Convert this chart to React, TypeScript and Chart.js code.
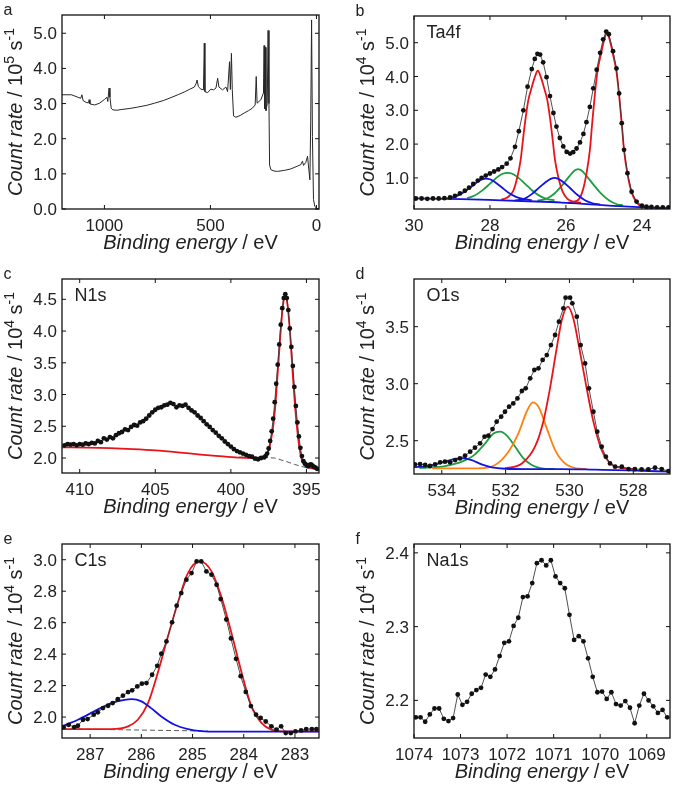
import React, { useEffect, useRef } from "react";
import { Chart, registerables } from "chart.js";

Chart.register(...registerables);

type Pt = [number, number];

// ---------------- data (binding energy eV, count rate) ----------------
// a: survey (10^5 s^-1)
const SURVEY: Pt[] = [
  [1200, 3.25], [1156, 3.25], [1125, 3.18], [1112, 3.15], [1106, 3.25], [1101, 3.09], [1086, 3.03], [1075, 3.02],
  [1072, 3.11], [1068, 2.99], [1046, 2.96], [1023, 3.01], [999, 3.12], [988, 3.18], [984, 3.06], [978, 3.44],
  [974, 3.18], [968, 2.87], [960, 2.82], [940, 2.81], [921, 2.83], [880, 2.86], [843, 2.9], [800, 2.95],
  [764, 3.01], [720, 3.09], [686, 3.17], [650, 3.26], [623, 3.33], [600, 3.4], [576, 3.47], [568, 3.56],
  [563, 3.67], [557, 3.48], [545, 3.41], [533, 3.39], [529, 4.72], [526, 3.34], [513, 3.31], [498, 3.41],
  [485, 3.39], [474, 3.44], [466, 3.72], [460, 3.47], [443, 3.39], [427, 3.47], [419, 3.34], [410, 4.19],
  [406, 3.4], [401, 4.43], [397, 3.4], [391, 2.65], [380, 2.61], [360, 2.66], [341, 2.73], [320, 2.8],
  [302, 2.87], [289, 2.96], [284, 3.77], [280, 3.01], [262, 3.11], [250, 3.3], [247, 4.65], [244, 2.85],
  [241, 4.6], [238, 2.8], [232, 3.0], [228, 5.08], [224, 3.0], [221, 1.25], [215, 1.12], [200, 1.08],
  [184, 1.07], [150, 1.1], [121, 1.14], [90, 1.22], [74, 1.26], [66, 1.36], [61, 1.24], [50, 1.33],
  [42, 1.5], [38, 1.25], [31, 0.83], [27, 2.5], [23, 5.38], [19, 2.06], [14, 0.27], [8, 0.08], [0, 0.02], [-10, 0.0],
];

// b: Ta4f (10^4 s^-1)
const TA4F_DATA: Pt[] = [
  [29.95, 0.39], [29.8, 0.39], [29.65, 0.38], [29.5, 0.39], [29.35, 0.39], [29.2, 0.4], [29.05, 0.42], [28.92, 0.47],
  [28.79, 0.54], [28.66, 0.62], [28.55, 0.71], [28.44, 0.82], [28.32, 0.92], [28.22, 1.0], [28.11, 1.07], [28.0, 1.13],
  [27.89, 1.19], [27.78, 1.25], [27.68, 1.32], [27.56, 1.42], [27.46, 1.58], [27.34, 1.92], [27.24, 2.38], [27.12, 3.0],
  [27.01, 3.7], [26.9, 4.22], [26.82, 4.52], [26.75, 4.67], [26.68, 4.65], [26.6, 4.42], [26.51, 3.98], [26.42, 3.42],
  [26.33, 2.92], [26.25, 2.52], [26.16, 2.18], [26.07, 1.93], [25.98, 1.77], [25.89, 1.72], [25.81, 1.76], [25.72, 1.87],
  [25.63, 2.05], [25.54, 2.3], [25.46, 2.65], [25.37, 3.1], [25.28, 3.65], [25.19, 4.2], [25.1, 4.7], [25.02, 5.1],
  [24.94, 5.33], [24.87, 5.25], [24.76, 4.75], [24.67, 4.24], [24.6, 3.5], [24.53, 2.62], [24.47, 1.83], [24.38, 1.14],
  [24.27, 0.59], [24.14, 0.3], [24.0, 0.18], [23.88, 0.15], [23.75, 0.14], [23.6, 0.13], [23.45, 0.13], [23.3, 0.13],
];
const TA4F_RED1: Pt[] = [
  [27.7, 0.36], [27.56, 0.41], [27.39, 0.61], [27.28, 1.02], [27.19, 1.55], [27.13, 2.14], [27.06, 2.78], [26.99, 3.3],
  [26.9, 3.68], [26.82, 3.98], [26.74, 4.17], [26.66, 3.98], [26.58, 3.68], [26.49, 3.3], [26.42, 2.78], [26.35, 2.14],
  [26.29, 1.55], [26.2, 1.02], [26.09, 0.6], [25.96, 0.38], [25.8, 0.3], [25.6, 0.27],
];
const TA4F_RED2: Pt[] = [
  [25.95, 0.27], [25.7, 0.33], [25.57, 0.58], [25.46, 1.12], [25.37, 1.82], [25.31, 2.6], [25.24, 3.45], [25.17, 4.15],
  [25.08, 4.65], [25.0, 5.05], [24.92, 5.3], [24.84, 5.05], [24.76, 4.65], [24.67, 4.15], [24.6, 3.45], [24.53, 2.6],
  [24.47, 1.82], [24.38, 1.12], [24.27, 0.57], [24.14, 0.27], [24.0, 0.15], [23.8, 0.12],
];
const TA4F_GREEN1: Pt[] = [
  [28.6, 0.4], [28.4, 0.48], [28.2, 0.63], [28.0, 0.83], [27.8, 1.03], [27.65, 1.13], [27.54, 1.15], [27.43, 1.13],
  [27.28, 1.03], [27.08, 0.83], [26.88, 0.62], [26.68, 0.46], [26.48, 0.37], [26.3, 0.34],
];
const TA4F_GREEN2: Pt[] = [
  [26.75, 0.33], [26.5, 0.39], [26.3, 0.54], [26.1, 0.78], [25.9, 1.06], [25.78, 1.21], [25.68, 1.26], [25.58, 1.21],
  [25.46, 1.06], [25.26, 0.78], [25.06, 0.52], [24.86, 0.33], [24.66, 0.22], [24.5, 0.19],
];
const TA4F_BLUE1: Pt[] = [
  [29.1, 0.39], [28.9, 0.45], [28.7, 0.57], [28.5, 0.73], [28.3, 0.9], [28.2, 0.96], [28.11, 0.98], [28.0, 0.96],
  [27.9, 0.9], [27.7, 0.73], [27.5, 0.55], [27.3, 0.43], [27.1, 0.37], [26.9, 0.34],
];
const TA4F_BLUE2: Pt[] = [
  [27.35, 0.33], [27.1, 0.38], [26.9, 0.52], [26.7, 0.72], [26.5, 0.9], [26.4, 0.97], [26.3, 1.0], [26.2, 0.97],
  [26.1, 0.9], [25.9, 0.71], [25.7, 0.5], [25.5, 0.34], [25.3, 0.25], [25.1, 0.21],
];
const TA4F_BG: Pt[] = [
  [30, 0.395], [28.75, 0.375], [27.87, 0.345], [26.99, 0.31], [26.11, 0.27], [25.24, 0.21], [24.36, 0.15], [23.26, 0.1],
];

// c: N1s
const N1S_DATA: Pt[] = [
  [411.0, 2.2], [410.8, 2.22], [410.6, 2.21], [410.4, 2.22], [410.2, 2.2], [410.0, 2.22], [409.8, 2.21], [409.6, 2.23],
  [409.4, 2.22], [409.2, 2.24], [409.0, 2.23], [408.8, 2.27], [408.6, 2.25], [408.4, 2.31], [408.2, 2.29], [408.0, 2.33],
  [407.8, 2.31], [407.6, 2.36], [407.4, 2.39], [407.2, 2.41], [407.0, 2.45], [406.8, 2.44], [406.6, 2.49], [406.4, 2.52],
  [406.2, 2.51], [406.0, 2.56], [405.8, 2.58], [405.6, 2.62], [405.4, 2.67], [405.2, 2.72], [405.0, 2.76], [404.8, 2.79],
  [404.6, 2.8], [404.4, 2.83], [404.2, 2.84], [404.0, 2.87], [403.8, 2.85], [403.6, 2.8], [403.4, 2.83], [403.2, 2.82],
  [403.0, 2.84], [402.8, 2.79], [402.6, 2.75], [402.4, 2.72], [402.2, 2.67], [402.0, 2.63], [401.8, 2.58], [401.6, 2.53],
  [401.4, 2.49], [401.2, 2.44], [401.0, 2.4], [400.8, 2.35], [400.6, 2.31], [400.4, 2.26], [400.2, 2.22], [400.0, 2.18],
  [399.8, 2.14], [399.6, 2.11], [399.4, 2.09], [399.2, 2.07], [399.0, 2.05], [398.8, 2.03], [398.6, 2.02], [398.4, 1.99],
  [398.2, 1.98], [398.0, 2.0], [397.8, 2.01], [397.7, 2.03], [397.6, 2.07], [397.5, 2.15], [397.4, 2.27], [397.3, 2.42],
  [397.2, 2.62], [397.1, 2.88], [397.0, 3.17], [396.9, 3.47], [396.8, 3.79], [396.7, 4.1], [396.6, 4.36], [396.5, 4.52],
  [396.4, 4.58], [396.3, 4.52], [396.2, 4.33], [396.1, 4.04], [396.0, 3.75], [395.9, 3.45], [395.8, 3.12], [395.7, 2.82],
  [395.6, 2.56], [395.5, 2.34], [395.4, 2.16], [395.3, 2.03], [395.2, 1.95], [395.1, 1.91], [395.0, 1.89], [394.9, 1.87],
  [394.8, 1.89], [394.7, 1.9], [394.6, 1.88], [394.5, 1.86], [394.4, 1.85], [394.3, 1.83],
];
const N1S_FIT: Pt[] = [
  [411.17, 2.17], [409.5, 2.165], [408.0, 2.155], [406.5, 2.14], [405.0, 2.12], [403.5, 2.09], [402.0, 2.055],
  [400.5, 2.025], [399.5, 2.005], [398.5, 2.0], [398.0, 2.01], [397.7, 2.04], [397.5, 2.12], [397.35, 2.28],
  [397.2, 2.5], [397.05, 2.85], [396.9, 3.35], [396.75, 3.85], [396.6, 4.3], [396.5, 4.5], [396.42, 4.57],
  [396.32, 4.52], [396.2, 4.3], [396.05, 3.85], [395.9, 3.3], [395.75, 2.8], [395.6, 2.42], [395.45, 2.14],
  [395.3, 1.97], [395.15, 1.9], [395.0, 1.87], [394.7, 1.84], [394.17, 1.83],
];
const N1S_BG: Pt[] = [
  [400.0, 2.01], [398.6, 2.02], [398.0, 2.01], [397.1, 2.0], [396.4, 1.95], [395.8, 1.9], [394.9, 1.84], [394.17, 1.82],
];

// d: O1s
const O1S_DATA: Pt[] = [
  [534.84, 2.292], [534.68, 2.295], [534.52, 2.287], [534.37, 2.278], [534.21, 2.292], [534.05, 2.31], [533.9, 2.316],
  [533.74, 2.31], [533.58, 2.33], [533.43, 2.345], [533.27, 2.368], [533.11, 2.404], [532.96, 2.439], [532.8, 2.477],
  [532.66, 2.535], [532.54, 2.544], [532.41, 2.602], [532.28, 2.667], [532.14, 2.711], [532.02, 2.754], [531.89, 2.798],
  [531.76, 2.827], [531.63, 2.871], [531.49, 2.936], [531.37, 2.959], [531.23, 3.047], [531.1, 3.12], [530.97, 3.135],
  [530.84, 3.208], [530.71, 3.251], [530.58, 3.339], [530.45, 3.427], [530.33, 3.544], [530.19, 3.661], [530.12, 3.754],
  [529.98, 3.754], [529.91, 3.705], [529.77, 3.588], [529.65, 3.339], [529.51, 3.178], [529.39, 2.959], [529.25, 2.754],
  [529.13, 2.579], [528.99, 2.447], [528.86, 2.36], [528.73, 2.301], [528.57, 2.272], [528.36, 2.272], [528.15, 2.251],
  [527.95, 2.251], [527.74, 2.249], [527.53, 2.249], [527.32, 2.263], [527.11, 2.251], [526.9, 2.234],
];
const O1S_RED: Pt[] = [
  [532.02, 2.257], [531.49, 2.3], [531.08, 2.447], [530.82, 2.667], [530.61, 2.959], [530.4, 3.31], [530.24, 3.558],
  [530.05, 3.675], [529.88, 3.573], [529.7, 3.325], [529.46, 2.959], [529.25, 2.667], [528.99, 2.418], [528.68, 2.292],
  [528.26, 2.257], [527.95, 2.251],
];
const O1S_ORANGE: Pt[] = [
  [534.3, 2.258], [533.9, 2.257], [532.85, 2.257], [532.33, 2.287], [531.91, 2.404], [531.6, 2.564], [531.34, 2.754],
  [531.15, 2.836], [530.97, 2.798], [530.71, 2.608], [530.45, 2.418], [530.14, 2.301], [529.77, 2.257], [529.46, 2.251],
];
const O1S_GREEN: Pt[] = [
  [534.7, 2.26], [534.52, 2.263], [533.9, 2.278], [533.37, 2.316], [532.96, 2.38], [532.64, 2.477], [532.38, 2.564],
  [532.17, 2.579], [531.96, 2.544], [531.7, 2.447], [531.44, 2.345], [531.18, 2.287], [530.87, 2.257], [530.45, 2.251],
];
const O1S_BLUE: Pt[] = [
  [534.87, 2.269], [534.42, 2.278], [533.9, 2.316], [533.48, 2.345], [533.32, 2.345], [533.06, 2.33], [532.75, 2.292],
  [532.43, 2.266], [532.02, 2.254], [531.29, 2.251], [530.24, 2.251], [529.2, 2.246], [528.15, 2.24], [526.85, 2.228],
];

// e: C1s
const C1S_DATA: Pt[] = [
  [287.52, 1.936], [287.42, 1.951], [287.31, 1.936], [287.24, 1.945], [287.14, 1.983], [287.05, 1.987], [286.93, 2.015],
  [286.85, 2.03], [286.75, 2.057], [286.65, 2.072], [286.56, 2.089], [286.46, 2.114], [286.36, 2.136], [286.26, 2.159],
  [286.18, 2.17], [286.08, 2.195], [285.99, 2.212], [285.9, 2.216], [285.79, 2.269], [285.69, 2.326], [285.61, 2.403],
  [285.51, 2.481], [285.4, 2.602], [285.31, 2.708], [285.22, 2.788], [285.12, 2.873], [285.02, 2.915], [284.92, 2.989],
  [284.83, 2.989], [284.73, 2.926], [284.63, 2.905], [284.53, 2.841], [284.45, 2.75], [284.34, 2.62], [284.25, 2.5],
  [284.15, 2.37], [284.06, 2.26], [283.96, 2.16], [283.86, 2.07], [283.76, 2.015], [283.67, 1.994], [283.57, 1.972],
  [283.46, 1.941], [283.36, 1.92], [283.27, 1.941], [283.18, 1.898], [283.08, 1.898], [282.99, 1.909], [282.88, 1.915],
  [282.78, 1.924], [282.67, 1.924], [282.58, 1.924],
];
const C1S_RED: Pt[] = [
  [287.55, 1.924], [286.59, 1.924], [286.26, 1.941], [286.07, 1.983], [285.87, 2.089], [285.68, 2.28], [285.48, 2.513],
  [285.28, 2.735], [285.09, 2.915], [284.86, 2.989], [284.63, 2.926], [284.44, 2.767], [284.24, 2.534], [284.04, 2.28],
  [283.85, 2.068], [283.65, 1.962], [283.46, 1.92], [283.26, 1.909], [282.53, 1.909],
];
const C1S_BLUE: Pt[] = [
  [287.55, 1.941], [287.24, 1.983], [286.92, 2.036], [286.59, 2.089], [286.33, 2.11], [286.18, 2.114], [286.0, 2.1],
  [285.81, 2.057], [285.61, 2.004], [285.35, 1.951], [285.09, 1.924], [284.83, 1.911], [284.5, 1.907], [282.53, 1.907],
];
const C1S_BG: Pt[] = [[287.55, 1.925], [284.7, 1.911]];

// f: Na1s
const NA1S_DATA: Pt[] = [
  [1073.96, 2.177], [1073.86, 2.177], [1073.76, 2.171], [1073.66, 2.181], [1073.56, 2.189], [1073.46, 2.189],
  [1073.36, 2.175], [1073.26, 2.172], [1073.16, 2.176], [1073.06, 2.208], [1072.96, 2.194], [1072.86, 2.198],
  [1072.76, 2.209], [1072.66, 2.214], [1072.56, 2.217], [1072.46, 2.235], [1072.36, 2.232], [1072.26, 2.242],
  [1072.16, 2.26], [1072.06, 2.278], [1071.96, 2.28], [1071.86, 2.301], [1071.76, 2.312], [1071.66, 2.34],
  [1071.56, 2.341], [1071.46, 2.359], [1071.36, 2.386], [1071.26, 2.39], [1071.16, 2.383], [1071.06, 2.39],
  [1070.96, 2.368], [1070.86, 2.359], [1070.76, 2.352], [1070.66, 2.316], [1070.56, 2.282], [1070.46, 2.287],
  [1070.36, 2.28], [1070.26, 2.257], [1070.16, 2.232], [1070.06, 2.211], [1069.96, 2.212], [1069.86, 2.202],
  [1069.76, 2.211], [1069.66, 2.195], [1069.56, 2.193], [1069.46, 2.199], [1069.36, 2.19], [1069.26, 2.169],
  [1069.16, 2.193], [1069.06, 2.209], [1068.96, 2.2], [1068.86, 2.192], [1068.76, 2.183], [1068.66, 2.187],
  [1068.56, 2.177],
];

// tick labels
const A_XTICKS = [1000, 500, 0];
const A_YTICKS = [0, 1, 2, 3, 4, 5];
const B_XTICKS = [30, 28, 26, 24];
const B_YTICKS = [1, 2, 3, 4, 5];
const C_XTICKS = [410, 405, 400, 395];
const C_YTICKS = [2.0, 2.5, 3.0, 3.5, 4.0, 4.5];
const D_XTICKS = [534, 532, 530, 528];
const D_YTICKS = [2.5, 3.0, 3.5];
const E_XTICKS = [287, 286, 285, 284, 283];
const E_YTICKS = [2.0, 2.2, 2.4, 2.6, 2.8, 3.0];
const F_XTICKS = [1074, 1073, 1072, 1071, 1070, 1069];
const F_YTICKS = [2.2, 2.3, 2.4];

// ---------------- styling / layout ----------------
const FONT = '"Liberation Sans", Arial, Helvetica, sans-serif';
const RED = "rgb(232,20,26)";
const BLUE = "rgb(18,18,226)";
const GREEN = "rgb(26,158,62)";
const ORANGE = "rgb(255,128,14)";

type Line = { pts: Pt[]; kind: "data" | "fit" | "plain" | "dash"; color?: string };
type PanelSpec = {
  letter: string;
  label: string;
  col: number;
  row: number;
  plot: [number, number, number, number];
  xRange: [number, number];
  yRange: [number, number];
  xTicks: number[];
  yTicks: number[];
  xDec: number;
  yDec: number;
  exp: string;
  lines: Line[];
};

const COL_X = [0, 350];
const COL_W = 325;
const ROW_Y = [0, 262, 527];
const ROW_H = [262, 265, 264];

const PANELS: PanelSpec[] = [
  {
    letter: "a", label: "", col: 0, row: 0, plot: [62, 15, 319, 209],
    xRange: [-12, 1200], yRange: [0, 5.52], xTicks: A_XTICKS, yTicks: A_YTICKS, xDec: 0, yDec: 1, exp: "5",
    lines: [{ pts: SURVEY, kind: "plain" }],
  },
  {
    letter: "b", label: "Ta4f", col: 1, row: 0, plot: [414, 16, 670, 209],
    xRange: [23.26, 30], yRange: [0.08, 5.79], xTicks: B_XTICKS, yTicks: B_YTICKS, xDec: 0, yDec: 1, exp: "4",
    lines: [
      { pts: TA4F_DATA, kind: "data" },
      { pts: TA4F_BG, kind: "fit", color: BLUE },
      { pts: TA4F_BLUE1, kind: "fit", color: BLUE },
      { pts: TA4F_BLUE2, kind: "fit", color: BLUE },
      { pts: TA4F_RED1, kind: "fit", color: RED },
      { pts: TA4F_RED2, kind: "fit", color: RED },
      { pts: TA4F_GREEN1, kind: "fit", color: GREEN },
      { pts: TA4F_GREEN2, kind: "fit", color: GREEN },
    ],
  },
  {
    letter: "c", label: "N1s", col: 0, row: 1, plot: [62, 279, 319, 473],
    xRange: [394.17, 411.17], yRange: [1.764, 4.82], xTicks: C_XTICKS, yTicks: C_YTICKS, xDec: 0, yDec: 1, exp: "4",
    lines: [
      { pts: N1S_DATA, kind: "data" },
      { pts: N1S_FIT, kind: "fit", color: RED },
      { pts: N1S_BG, kind: "dash" },
    ],
  },
  {
    letter: "d", label: "O1s", col: 1, row: 1, plot: [414, 279, 670, 474],
    xRange: [526.85, 534.87], yRange: [2.208, 3.918], xTicks: D_XTICKS, yTicks: D_YTICKS, xDec: 0, yDec: 1, exp: "4",
    lines: [
      { pts: O1S_DATA, kind: "data" },
      { pts: O1S_BLUE, kind: "fit", color: BLUE },
      { pts: O1S_RED, kind: "fit", color: RED },
      { pts: O1S_ORANGE, kind: "fit", color: ORANGE },
      { pts: O1S_GREEN, kind: "fit", color: GREEN },
    ],
  },
  {
    letter: "e", label: "C1s", col: 0, row: 2, plot: [62, 544, 319, 738],
    xRange: [282.53, 287.55], yRange: [1.867, 3.1], xTicks: E_XTICKS, yTicks: E_YTICKS, xDec: 0, yDec: 1, exp: "4",
    lines: [
      { pts: C1S_DATA, kind: "data" },
      { pts: C1S_BLUE, kind: "fit", color: BLUE },
      { pts: C1S_RED, kind: "fit", color: RED },
      { pts: C1S_BG, kind: "dash" },
    ],
  },
  {
    letter: "f", label: "Na1s", col: 1, row: 2, plot: [414, 544, 670, 738],
    xRange: [1068.5, 1074.0], yRange: [2.149, 2.412], xTicks: F_XTICKS, yTicks: F_YTICKS, xDec: 0, yDec: 1, exp: "4",
    lines: [{ pts: NA1S_DATA, kind: "data" }],
  },
];

function toDataset(l: Line): any {
  const data = l.pts.map(([x, y]) => ({ x, y }));
  if (l.kind === "data") {
    return {
      data, borderColor: "#3c3c3c", borderWidth: 0.9, pointRadius: 2.4, pointBackgroundColor: "#111",
      pointBorderWidth: 0, pointHoverRadius: 0, tension: 0, fill: false,
    };
  }
  if (l.kind === "plain") {
    return { data, borderColor: "#262626", borderWidth: 1, pointRadius: 0, tension: 0, fill: false };
  }
  if (l.kind === "dash") {
    return { data, borderColor: "#5a5a5a", borderWidth: 1, borderDash: [5, 3], pointRadius: 0, tension: 0, fill: false };
  }
  return {
    data, borderColor: l.color, borderWidth: 1.8, pointRadius: 0, tension: 0.4,
    cubicInterpolationMode: "monotone", fill: false,
  };
}

function drawSegments(ctx: CanvasRenderingContext2D, segs: { t: string; font: string; dy: number }[], cx: number, baseY: number) {
  let total = 0;
  for (const s of segs) {
    ctx.font = s.font;
    total += ctx.measureText(s.t).width;
  }
  let x = cx - total / 2;
  ctx.textAlign = "left";
  ctx.textBaseline = "alphabetic";
  for (const s of segs) {
    ctx.font = s.font;
    ctx.fillText(s.t, x, baseY + s.dy);
    x += ctx.measureText(s.t).width;
  }
}

function framePlugin(p: PanelSpec) {
  return {
    id: "xpsFrame",
    afterDraw(chart: any) {
      const ctx: CanvasRenderingContext2D = chart.ctx;
      const a = chart.chartArea;
      const xs = chart.scales.x;
      const ys = chart.scales.y;
      const TL = 4;
      ctx.save();
      ctx.strokeStyle = "#111";
      ctx.lineWidth = 1.3;
      ctx.strokeRect(a.left, a.top, a.right - a.left, a.bottom - a.top);
      ctx.lineWidth = 1;
      ctx.fillStyle = "#222";
      ctx.font = `17px ${FONT}`;
      ctx.textAlign = "center";
      ctx.textBaseline = "alphabetic";
      for (const v of p.xTicks) {
        const px = xs.getPixelForValue(v);
        ctx.beginPath();
        ctx.moveTo(px, a.bottom);
        ctx.lineTo(px, a.bottom - TL);
        ctx.moveTo(px, a.top);
        ctx.lineTo(px, a.top + TL);
        ctx.stroke();
        ctx.fillText(v.toFixed(p.xDec), px, a.bottom + 22);
      }
      ctx.textAlign = "right";
      for (const v of p.yTicks) {
        const py = ys.getPixelForValue(v);
        ctx.beginPath();
        ctx.moveTo(a.left, py);
        ctx.lineTo(a.left + TL, py);
        ctx.moveTo(a.right, py);
        ctx.lineTo(a.right - TL, py);
        ctx.stroke();
        ctx.fillText(v.toFixed(p.yDec), a.left - 5, py + 6);
      }
      // x title
      const midX = (a.left + a.right) / 2;
      drawSegments(ctx, [
        { t: "Binding energy", font: `italic 20px ${FONT}`, dy: 0 },
        { t: " / eV", font: `20px ${FONT}`, dy: 0 },
      ], midX, a.bottom + 40);
      // y title (rotated)
      ctx.save();
      ctx.translate(a.left - 47, (a.top + a.bottom) / 2);
      ctx.rotate(-Math.PI / 2);
      drawSegments(ctx, [
        { t: "Count rate", font: `italic 20px ${FONT}`, dy: 0 },
        { t: " / 10", font: `20px ${FONT}`, dy: 0 },
        { t: p.exp, font: `14px ${FONT}`, dy: -8 },
        { t: " s", font: `20px ${FONT}`, dy: 0 },
        { t: "-1", font: `14px ${FONT}`, dy: -8 },
      ], 0, 7);
      ctx.restore();
      // panel letter
      ctx.font = `16px ${FONT}`;
      ctx.textAlign = "left";
      ctx.textBaseline = "alphabetic";
      ctx.fillText(p.letter, a.left - 58.5, a.top);
      // inset label
      if (p.label) {
        ctx.font = `18px ${FONT}`;
        ctx.fillText(p.label, a.left + 12.5, a.top + 21.5);
      }
      ctx.restore();
    },
  };
}

function Panel({ spec }: { spec: PanelSpec }) {
  const ref = useRef<HTMLCanvasElement>(null);
  const cl = COL_X[spec.col];
  const ct = ROW_Y[spec.row];
  const cw = COL_W;
  const ch = ROW_H[spec.row];
  useEffect(() => {
    const canvas = ref.current;
    if (!canvas) return;
    const [pl, pt, pr, pb] = spec.plot;
    const chart = new Chart(canvas, {
      type: "line",
      data: { datasets: spec.lines.map(toDataset) },
      options: {
        animation: false,
        responsive: false,
        devicePixelRatio: 1,
        events: [],
        layout: { padding: { left: pl - cl, top: pt - ct, right: cl + cw - pr, bottom: ct + ch - pb } },
        scales: {
          x: { type: "linear", display: false, min: spec.xRange[0], max: spec.xRange[1], reverse: true },
          y: { type: "linear", display: false, min: spec.yRange[0], max: spec.yRange[1] },
        },
        plugins: { legend: { display: false }, tooltip: { enabled: false } },
      } as any,
      plugins: [framePlugin(spec)],
    });
    return () => chart.destroy();
  }, [spec]);
  return (
    <canvas
      ref={ref}
      width={cw}
      height={ch}
      style={{ position: "absolute", left: cl, top: ct, width: cw, height: ch }}
    />
  );
}

export default function App() {
  return (
    <div style={{ position: "absolute", left: 0, top: 0, width: 675, height: 791, background: "#fff", overflow: "hidden" }}>
      {PANELS.map((p) => (
        <Panel key={p.letter} spec={p} />
      ))}
    </div>
  );
}
